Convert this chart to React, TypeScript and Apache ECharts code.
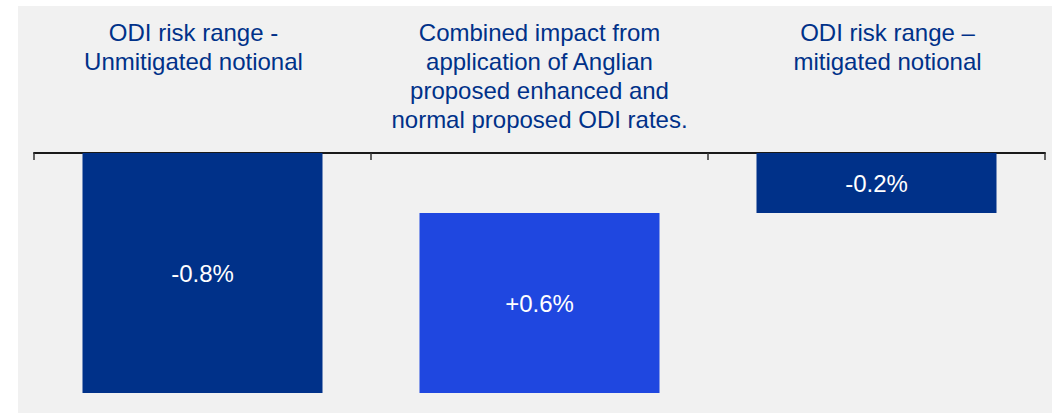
import React, { useEffect, useRef } from "react";
import * as echarts from "echarts";

const categories = [
  "ODI risk range -\nUnmitigated notional",
  "Combined impact from\napplication of Anglian\nproposed enhanced and\nnormal proposed ODI rates.",
  "ODI risk range \u2013\nmitigated notional",
];
// kind: total bars start at 0, delta bars start from previous end
const values = [-0.8, 0.6, -0.2];
const kinds = ["total", "delta", "total"];
const valueLabels = ["-0.8%", "+0.6%", "-0.2%"];
const barColors = ["#003189", "#1f47e0", "#003189"];

const FONT = "Liberation Sans, Arial, sans-serif";

export default function App() {
  const ref = useRef<HTMLDivElement>(null);
  useEffect(() => {
    document.body.style.margin = "0";
    const chart = echarts.init(ref.current!, null, { renderer: "svg" });
    const base: number[] = [];
    const size: number[] = [];
    let running = 0;
    values.forEach((v, i) => {
      if (kinds[i] === "total") {
        base.push(0);
        size.push(v);
        running = v;
      } else {
        const start = running;
        const end = running + v;
        const near = Math.max(start, end);
        const far = Math.min(start, end);
        base.push(near);
        size.push(far - near);
        running = end;
      }
    });
    const labelStyle = { color: "#003189", fontSize: 24, lineHeight: 29, fontFamily: FONT };
    chart.setOption({
      animation: false,
      textStyle: { fontFamily: FONT },
      graphic: [
        {
          type: "rect",
          z: -10,
          silent: true,
          shape: { x: 18, y: 6, width: 1034, height: 407 },
          style: { fill: "#f1f1f1" },
        },
      ],
      grid: { left: 34, right: 7, top: 153, bottom: 20, containLabel: false },
      xAxis: {
        type: "category",
        position: "top",
        data: categories,
        axisLine: { onZero: false, lineStyle: { color: "#1a1a1a", width: 2 } },
        axisTick: { show: true, inside: true, length: 7, lineStyle: { color: "#333", width: 1.5 } },
        axisLabel: {
          interval: 0,
          margin: 135,
          verticalAlign: "top",
          ...labelStyle,
          formatter: (val: string, idx: number) =>
            val
              .split("\n")
              .map((l) => `{c${idx}|${l}}`)
              .join("\n"),
          rich: {
            c0: { ...labelStyle, padding: [0, 18, 0, 0] },
            c1: { ...labelStyle },
            c2: { ...labelStyle, padding: [0, 0, 0, 22] },
          },
        },
      },
      yAxis: {
        type: "value",
        min: -0.8,
        max: 0,
        show: false,
        splitLine: { show: false },
      },
      series: [
        {
          type: "bar",
          stack: "w",
          data: base,
          barWidth: 240,
          itemStyle: { color: "transparent" },
          silent: true,
        },
        {
          type: "bar",
          stack: "w",
          barWidth: 240,
          data: size.map((v, i) => ({ value: v, itemStyle: { color: barColors[i] } })),
          label: {
            show: true,
            position: "inside",
            color: "#ffffff",
            fontSize: 24,
            fontFamily: FONT,
            formatter: (p: any) => valueLabels[p.dataIndex],
          },
        },
      ],
    });
    return () => chart.dispose();
  }, []);
  return <div ref={ref} style={{ width: 1052, height: 413 }} />;
}
